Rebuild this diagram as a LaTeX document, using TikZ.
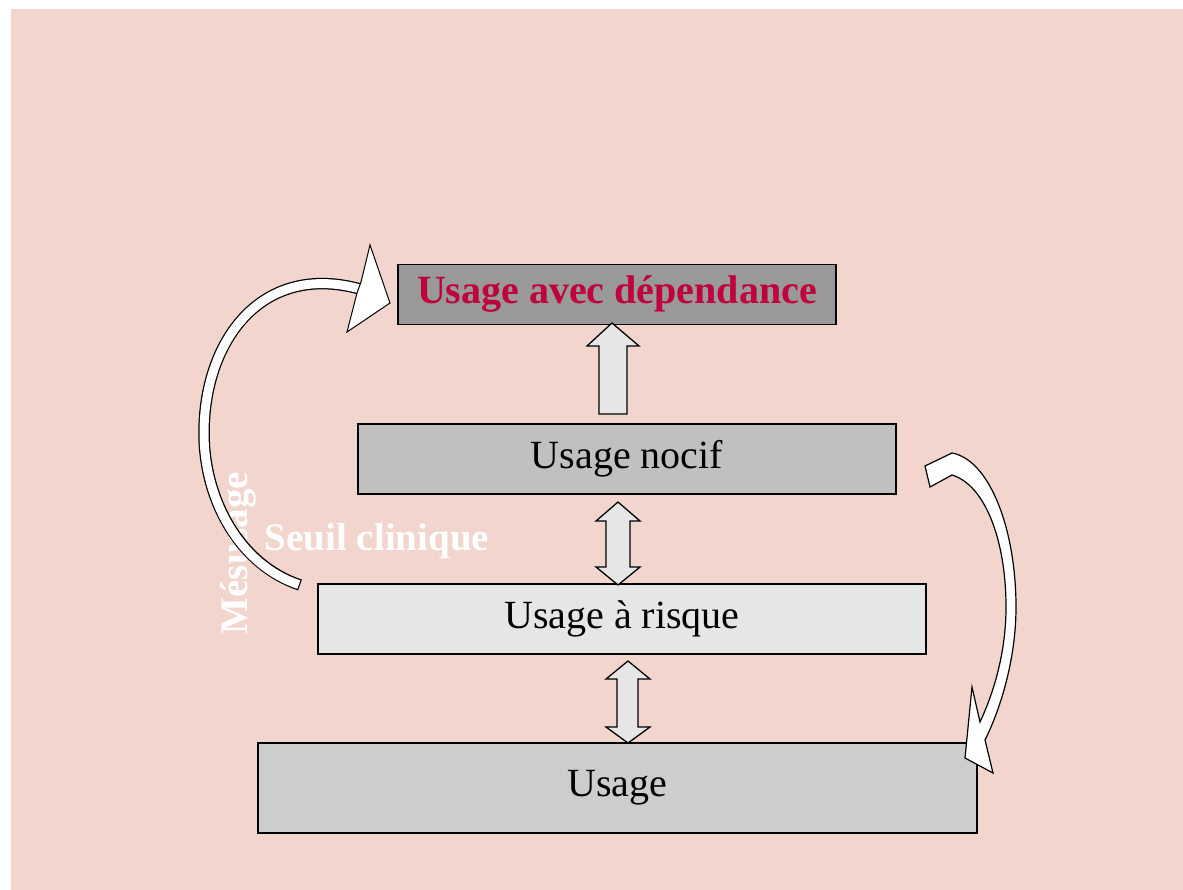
\documentclass[tikz,border=0pt]{standalone}
\usepackage{fontspec}
\setmainfont{Liberation Serif}
\definecolor{bgpink}{RGB}{242,214,206}
\definecolor{crim}{RGB}{192,0,60}
\definecolor{gtop}{RGB}{153,153,153}
\definecolor{gnoc}{RGB}{192,192,192}
\definecolor{gris}{RGB}{230,230,230}
\definecolor{gusa}{RGB}{205,205,205}
\begin{document}
\begin{tikzpicture}[x=1pt,y=-1pt,
  levelbox/.style={draw=black,line width=1.5pt,inner sep=0pt,minimum width=#1,
    font=\fontsize{40}{48}\selectfont},
  bigarrow/.style={draw=black,line width=1.3pt,fill=gris,line join=miter},
  whitelabel/.style={text=white,font=\bfseries\fontsize{39}{46}\selectfont,inner sep=0pt}]
\useasboundingbox (0,0) rectangle (1183,890);
\fill[bgpink] (11,9) rectangle (1183,890);
% labels
\node[whitelabel] (seuil) at (377,541) {Seuil clinique};
\node[whitelabel,rotate=90] (mesu) at (238,553) {Mésusage};
% boxes
\node[levelbox=438pt,minimum height=60pt,fill=gtop,text=crim,font=\bfseries\fontsize{40}{48}\selectfont] (dep) at (617,294.5) {Usage avec dépendance};
\node[levelbox=538pt,minimum height=70pt,fill=gnoc] (noc) at (627,459) {Usage nocif};
\node[levelbox=608pt,minimum height=70pt,fill=gris] (ris) at (622,619) {Usage à risque};
\node[levelbox=719pt,minimum height=90pt,fill=gusa] (usa) at (617.5,788) {Usage};
% straight arrows
\draw[bigarrow] (612,323) -- (639,346) -- (627,346) -- (627,414) -- (599,414) -- (599,346) -- (587,346) -- cycle;
\draw[bigarrow] (618,502) -- (640,521) -- (630,521) -- (630,567) -- (640,567) -- (618,585)
  -- (596,567) -- (606,567) -- (606,521) -- (596,521) -- cycle;
\draw[bigarrow] (628,661) -- (650,679) -- (638,679) -- (638,727) -- (650,727) -- (628,743)
  -- (606,727) -- (617,727) -- (617,679) -- (606,679) -- cycle;
% left curved arrow
\coordinate (ltail) at (300,585);
\coordinate (lhead) at (360,289);
\draw[black,line width=11.5pt] (ltail) .. controls (240,565) and (204,500) .. (204,433)
  .. controls (204,340) and (262,262) .. (lhead);
\draw[white,line width=9pt,shorten <=1.2pt] (ltail) .. controls (240,565) and (204,500) .. (204,433)
  .. controls (204,340) and (262,262) .. (lhead);
\draw[draw=black,fill=white,line width=1pt,line join=miter] (370,245) -- (390,303) -- (347,332) -- (357,293) -- (361,282) -- cycle;
% right curved arrow
\draw[draw=black,fill=white,line width=1.2pt,line join=miter]
  (925,466) -- (952,453) .. controls (990,460) and (1016,530) .. (1016,607)
  .. controls (1016,660) and (1000,710) .. (985,740)
  -- (993,773) -- (965,758) -- (972,687) -- (980,722)
  .. controls (995,690) and (1006,650) .. (1006,607)
  .. controls (1006,540) and (985,485) .. (952,475) -- (930,487) -- cycle;
\end{tikzpicture}
\end{document}
